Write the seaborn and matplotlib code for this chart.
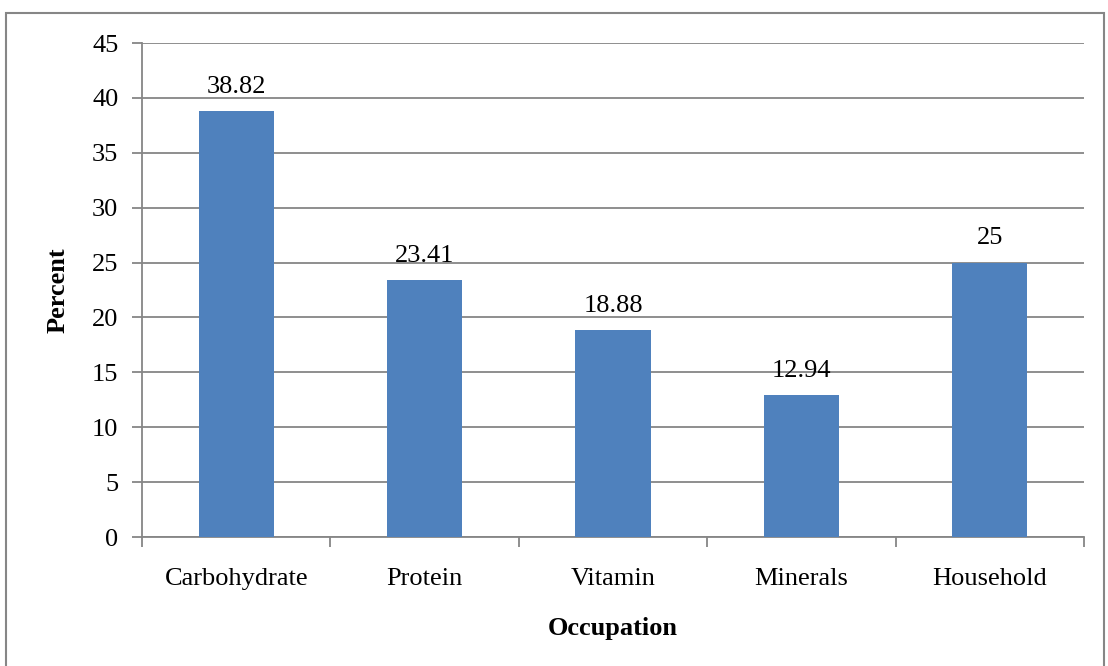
import matplotlib
matplotlib.use("Agg")
import matplotlib.pyplot as plt
import seaborn as sns
import pandas as pd
from matplotlib.patches import Rectangle

categories = ["Carbohydrate", "Protein", "Vitamin", "Minerals", "Household"]
values = [38.82, 23.41, 18.88, 12.94, 25]
value_labels = ["38.82", "23.41", "18.88", "12.94", "25"]
y_ticks = [0, 5, 10, 15, 20, 25, 30, 35, 40, 45]

sns.set_theme(style="white")
plt.rcParams['font.family'] = ['Liberation Serif', 'DejaVu Serif']
plt.rcParams['text.color'] = 'black'
plt.rcParams['axes.labelcolor'] = 'black'
plt.rcParams['xtick.labelcolor'] = 'black'
plt.rcParams['ytick.labelcolor'] = 'black'

FS = 19

df = pd.DataFrame({"cat": categories, "val": values})

fig = plt.figure(figsize=(11.08, 6.66), dpi=100)
ax = fig.add_axes([142/1108, 1-537/666, (1084-142)/1108, (537-43)/666])

sns.barplot(data=df, x="cat", y="val", color="#4F81BD", width=0.40,
            saturation=1, ax=ax, zorder=3, linewidth=0, edgecolor="none")

grid_c = "#868686"
ax.set_ylim(0, 45)
ax.set_yticks(y_ticks)
ax.set_yticklabels([str(t) for t in y_ticks], fontsize=FS)
ax.set_xlim(-0.5, len(categories) - 0.5)
ax.yaxis.grid(True, color=grid_c, linewidth=1.3, zorder=0)
ax.set_axisbelow(True)

# x ticks between categories
ax.set_xticks([i - 0.5 for i in range(len(categories) + 1)], minor=False)
ax.set_xticklabels([])
ax.set_xticks(range(len(categories)), minor=True)
ax.set_xticklabels(categories, minor=True, fontsize=FS)
ax.tick_params(axis="x", which="major", direction="out", length=7, width=1.3,
               color=grid_c, bottom=True)
ax.tick_params(axis="x", which="minor", length=0, pad=22)
ax.tick_params(axis="y", direction="out", length=7, width=1.3, color=grid_c,
               left=True, pad=10)

for s in ["top", "right"]:
    ax.spines[s].set_visible(False)
for s in ["left", "bottom"]:
    ax.spines[s].set_color(grid_c)
    ax.spines[s].set_linewidth(1.3)

for i, (v, lab) in enumerate(zip(values, value_labels)):
    ax.text(i, v + 1.2, lab, ha="center", va="bottom", fontsize=FS, color="black")

ax.set_xlabel("Occupation", fontsize=FS, fontweight="bold", labelpad=20)
ax.set_ylabel("Percent", fontsize=FS, fontweight="bold", labelpad=16)

fig.patches.append(Rectangle((6/1108, -0.01), (1104-6)/1108, 1 - 13/666 + 0.01,
                             transform=fig.transFigure, fill=False,
                             edgecolor=grid_c, linewidth=1.5))

fig.savefig("out.png", dpi=100)
